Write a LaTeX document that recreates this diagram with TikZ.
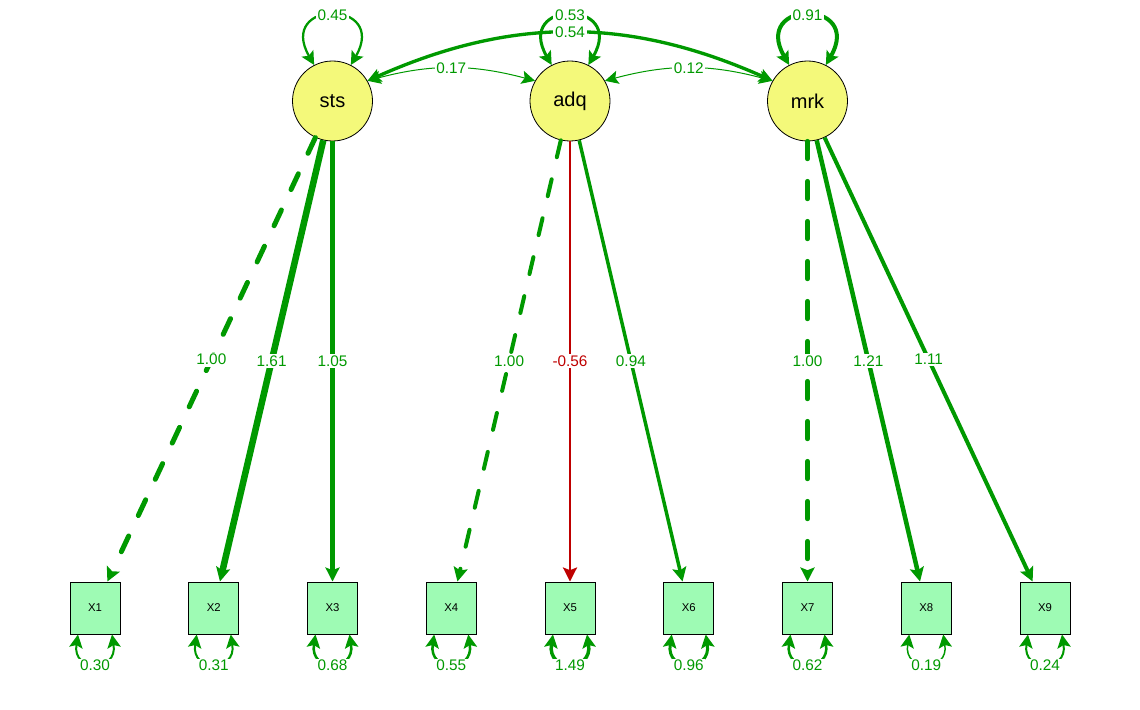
\documentclass[tikz,border=0pt]{standalone}
\usepackage{fontspec}
\setmainfont{Liberation Sans}
\usetikzlibrary{arrows.meta}
\definecolor{posgreen}{RGB}{0,153,0}
\definecolor{negred}{RGB}{191,0,0}
\definecolor{latfill}{RGB}{244,249,122}
\definecolor{manfill}{RGB}{158,251,180}
\tikzset{
	latent/.style={circle, draw=black, line width=0.6pt, fill=latfill, minimum size=60pt, inner sep=0pt, font=\fontsize{15}{17}\selectfont},
	manifest/.style={rectangle, draw=black, line width=0.7pt, fill=manfill, minimum width=37.5pt, minimum height=39pt, inner sep=0pt, font=\fontsize{8.5}{10}\selectfont},
	est/.style={fill=white, inner sep=1.2pt, text=posgreen, font=\fontsize{11.5}{13}\selectfont},
	arr/.style={draw=posgreen, -{Stealth[length=10.5pt,width=10.5pt,inset=2pt]}},
	darr/.style={draw=posgreen, {Stealth[length=10pt,width=10pt,inset=2pt]}-{Stealth[length=10pt,width=10pt,inset=2pt]}},
	fixed/.style={line cap=round, dash pattern=on 13pt off 17pt}
}

\begin{document}
\begin{tikzpicture}[x=0.75pt, y=-0.75pt]
			%%%%% START %%%%%
			\useasboundingbox (0, 0) rectangle (1140, 710);
			
			\node[latent] (sts) at (332.5, 101) {sts};
			\node[latent] (adq) at (570, 101) {adq};
			\node[latent] (mrk) at (807.5, 101) {mrk};
			
			\node[manifest] (X1) at (95, 608) {X1};
			\node[manifest] (X2) at (213.75, 608) {X2};
			\node[manifest] (X3) at (332.5, 608) {X3};
			\node[manifest] (X4) at (451.25, 608) {X4};
			\node[manifest] (X5) at (570, 608) {X5};
			\node[manifest] (X6) at (688.75, 608) {X6};
			\node[manifest] (X7) at (807.5, 608) {X7};
			\node[manifest] (X8) at (926.25, 608) {X8};
			\node[manifest] (X9) at (1045, 608) {X9};
			
			% loadings
			\draw[arr, fixed, line width=3.75pt] (sts) -- node[est] {1.00} (X1);
			\draw[arr, line width=4.9pt] (sts) -- node[est] {1.61} (X2);
			\draw[arr, line width=3.75pt] (sts) -- node[est] {1.05} (X3);
			\draw[arr, fixed, line width=3pt] (adq) -- node[est] {1.00} (X4);
			\draw[arr, draw=negred, line width=1.9pt] (adq) -- node[est, text=negred] {-0.56} (X5);
			\draw[arr, line width=2.6pt] (adq) -- node[est] {0.94} (X6);
			\draw[arr, fixed, line width=3.75pt] (mrk) -- node[est] {1.00} (X7);
			\draw[arr, line width=3.4pt] (mrk) -- node[est] {1.21} (X8);
			\draw[arr, line width=3pt] (mrk) -- node[est] {1.11} (X9);
			
			% covariances
			\draw[darr, line width=2.5pt] (sts.30) to[bend left=24] node[est] {0.54} (mrk.150);
			\draw[darr, line width=0.75pt] (sts.30) to[bend left=15] node[est] {0.17} (adq.150);
			\draw[darr, line width=0.75pt] (adq.30) to[bend left=15] node[est] {0.12} (mrk.150);
			
			% latent variances
			\draw[darr, line width=1.7pt] (sts.117) .. controls +(-38,-66) and +(38,-66) .. node[est] {0.45} (sts.63);
			\draw[darr, line width=2.25pt] (adq.117) .. controls +(-38,-66) and +(38,-66) .. node[est] {0.53} (adq.63);
			\draw[darr, line width=3pt] (mrk.117) .. controls +(-38,-66) and +(38,-66) .. node[est] {0.91} (mrk.63);
			
			% residual variances
			\draw[darr, line width=1.5pt] ([xshift=-12.75pt]X1.south) .. controls +(-6,38) and +(6,38) .. node[est, yshift=-2pt] {0.30} ([xshift=12.75pt]X1.south);
			\draw[darr, line width=1.5pt] ([xshift=-12.75pt]X2.south) .. controls +(-6,38) and +(6,38) .. node[est, yshift=-2pt] {0.31} ([xshift=12.75pt]X2.south);
			\draw[darr, line width=1.9pt] ([xshift=-12.75pt]X3.south) .. controls +(-6,38) and +(6,38) .. node[est, yshift=-2pt] {0.68} ([xshift=12.75pt]X3.south);
			\draw[darr, line width=1.9pt] ([xshift=-12.75pt]X4.south) .. controls +(-6,38) and +(6,38) .. node[est, yshift=-2pt] {0.55} ([xshift=12.75pt]X4.south);
			\draw[darr, line width=2.6pt] ([xshift=-12.75pt]X5.south) .. controls +(-6,38) and +(6,38) .. node[est, yshift=-2pt] {1.49} ([xshift=12.75pt]X5.south);
			\draw[darr, line width=2.25pt] ([xshift=-12.75pt]X6.south) .. controls +(-6,38) and +(6,38) .. node[est, yshift=-2pt] {0.96} ([xshift=12.75pt]X6.south);
			\draw[darr, line width=1.9pt] ([xshift=-12.75pt]X7.south) .. controls +(-6,38) and +(6,38) .. node[est, yshift=-2pt] {0.62} ([xshift=12.75pt]X7.south);
			\draw[darr, line width=1.1pt] ([xshift=-12.75pt]X8.south) .. controls +(-6,38) and +(6,38) .. node[est, yshift=-2pt] {0.19} ([xshift=12.75pt]X8.south);
			\draw[darr, line width=1.5pt] ([xshift=-12.75pt]X9.south) .. controls +(-6,38) and +(6,38) .. node[est, yshift=-2pt] {0.24} ([xshift=12.75pt]X9.south);
			
			%%%%% END %%%%%
\end{tikzpicture}
\end{document}
